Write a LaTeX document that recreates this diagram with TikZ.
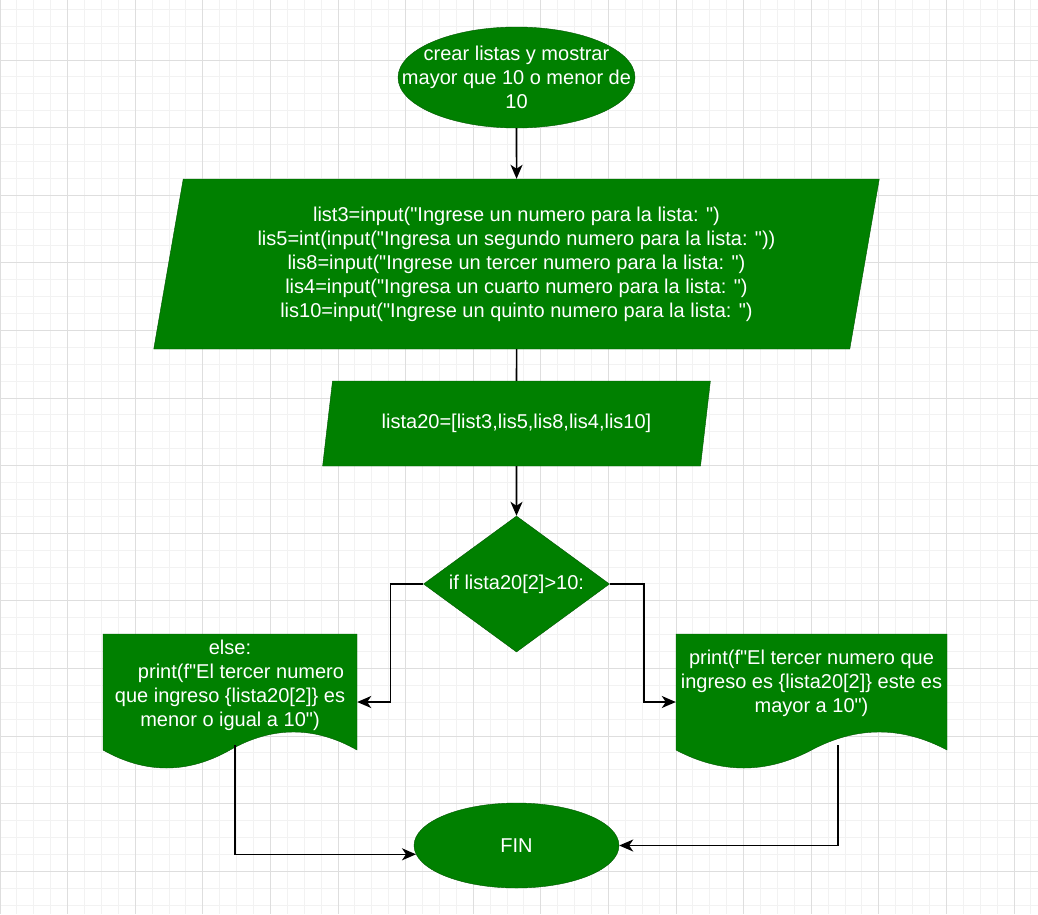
\documentclass[tikz,border=0pt]{standalone}
\usepackage{fontspec}
\newfontfamily\flowfont{Liberation Sans}
\usetikzlibrary{shapes.geometric,arrows.meta}
\definecolor{boxgreen}{HTML}{008000}
\definecolor{boxline}{HTML}{005700}
\definecolor{gridminor}{HTML}{F2F2F2}
\definecolor{gridmajor}{HTML}{DEDEDE}

\begin{document}
\begin{tikzpicture}[x=1pt,y=-1pt,
	txt/.style={text=white,font=\flowfont\fontsize{20}{24}\selectfont,align=center},
	term/.style={ellipse,fill=boxgreen,draw=boxline,inner sep=0pt},
	io/.style={trapezium,trapezium stretches=true,fill=boxgreen,draw=boxline,inner sep=0pt,txt},
	cond/.style={diamond,fill=boxgreen,draw=boxline,inner sep=0pt},
	docbox/.style={rectangle,draw=none,inner sep=0pt},
	flow/.style={-{Stealth[length=14pt,width=12pt,inset=4pt]},line width=1.6pt},
	plainline/.style={line width=1.6pt}]
	\useasboundingbox (0,0) rectangle (1038,914);
	\fill[white] (0,0) rectangle (1038,914);
	
	% grid
	\foreach \i in {0,...,61}
		\draw[gridminor,line width=1pt] (\i*16.9,0) -- (\i*16.9,914);
	\foreach \j in {0,...,53}
		\draw[gridminor,line width=1pt] (0,9.3+\j*16.9) -- (1038,9.3+\j*16.9);
	\foreach \i in {0,...,15}
		\draw[gridmajor,line width=1pt] (\i*67.6,0) -- (\i*67.6,914);
	\foreach \j in {1,...,13}
		\draw[gridmajor,line width=1pt] (0,-7.6+\j*67.6) -- (1038,-7.6+\j*67.6);
	
	\node (start)[term,minimum width=237pt,minimum height=101pt,
		label={[txt]center:{crear listas y mostrar\\mayor que 10 o menor de\\10}}] at (516.5,77.5) {};
	
	\node (inp)[io,trapezium left angle=78.7,trapezium right angle=101.3,
		minimum width=727pt,minimum height=170pt] at (516.5,264)
		{list3=input("Ingrese un numero para la lista: ")\\
		lis5=int(input("Ingresa un segundo numero para la lista: "))\\
		lis8=input("Ingrese un tercer numero para la lista: ")\\
		lis4=input("Ingresa un cuarto numero para la lista: ")\\
		lis10=input("Ingrese un quinto numero para la lista: ")};
	
	\node (lst)[io,trapezium left angle=68.8,trapezium right angle=111.2,
		minimum width=389pt,minimum height=85pt] at (516.5,423.5)
		{lista20=[list3,lis5,lis8,lis4,lis10]};
	
	\node (dec)[cond,minimum width=186pt,minimum height=136pt,
		label={[txt]center:{if lista20[2]>10:}}] at (516.5,584) {};
	
	% document shapes
	\filldraw[fill=boxgreen,draw=boxline] (103,634) -- (357,634) -- (357,750)
		.. controls (314.7,726) and (272.3,726) .. (230,750)
		.. controls (187.7,774) and (145.3,774) .. (103,750) -- cycle;
	\node (docL)[docbox,minimum width=254pt,minimum height=136pt,
		label={[txt,yshift=17pt]center:{else:\\\hspace*{22pt}print(f"El tercer numero\\que ingreso \{lista20[2]\} es\\menor o igual a 10")}}] at (230,702) {};
	
	\filldraw[fill=boxgreen,draw=boxline] (676,634) -- (947,634) -- (947,750)
		.. controls (901.8,726) and (856.7,726) .. (811.5,750)
		.. controls (766.3,774) and (721.2,774) .. (676,750) -- cycle;
	\node (docR)[docbox,minimum width=271pt,minimum height=136pt,
		label={[txt,yshift=19pt]center:{print(f"El tercer numero que\\ingreso es \{lista20[2]\} este es\\mayor a 10")}}] at (811.5,702) {};
	
	\node (fin)[term,txt,minimum width=205pt,minimum height=85pt] at (516.5,845.5) {FIN};
	
	\coordinate (outL) at (235,745);
	\coordinate (outR) at (838,745);
	
	\draw[flow] (start) -- (inp);
	\draw[plainline] (inp) -- (lst);
	\draw[flow] (lst) -- (dec);
	
	\draw[flow] (dec.west) -- ++(-33,0) |- (docL.east);
	\draw[flow] (dec.east) -- ++(34,0) |- (docR.west);
	
	\draw[flow] (outL) |- (fin.185);
	\draw[flow] (outR) |- (fin.east);
\end{tikzpicture}
\end{document}
